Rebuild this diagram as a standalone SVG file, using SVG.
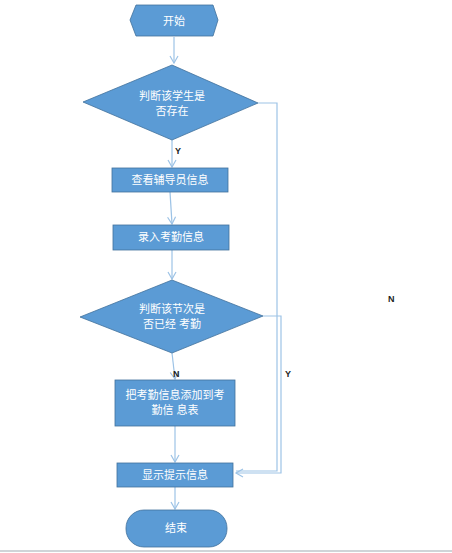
<svg xmlns="http://www.w3.org/2000/svg" width="452" height="553" viewBox="0 0 452 553">
<defs>
<style>
.shape{fill:#5b9bd5;stroke:#41719c;stroke-width:0.8}
.t{fill:#ffffff;font-family:"Liberation Sans","Noto Sans CJK SC",sans-serif;font-size:11px;text-anchor:middle}
.c{fill:none;stroke:#9dc3e6;stroke-width:1.2}
.lbl{font-family:"Liberation Sans",sans-serif;font-size:9px;font-weight:bold;fill:#222}
</style>
<marker id="ah" markerWidth="10" markerHeight="10" refX="8" refY="5" orient="auto" markerUnits="userSpaceOnUse">
<path d="M1,1 L8,5 L1,9" fill="none" stroke="#9dc3e6" stroke-width="1.2"/>
</marker>
</defs>
<rect width="452" height="553" fill="#ffffff"/>
<g id="connectors">
<path class="c" d="M174,37 V63" marker-end="url(#ah)"/>
<path class="c" d="M172,140 V167" marker-end="url(#ah)"/>
<path class="c" d="M170,192 L172,224" marker-end="url(#ah)"/>
<path class="c" d="M172,250 V279" marker-end="url(#ah)"/>
<path class="c" d="M172,353 L175,379" marker-end="url(#ah)"/>
<path class="c" d="M175,426 V462" marker-end="url(#ah)"/>
<path class="c" d="M175,487 V509" marker-end="url(#ah)"/>
<path class="c" d="M258,103 H277 V471 H236"/>
<path class="c" d="M263,316 H281 V473 H236" marker-end="url(#ah)"/>
<text class="lbl" x="175" y="154">Y</text>
<text class="lbl" x="173" y="377" font-size="8">N</text>
<text class="lbl" x="285" y="377" font-size="8" fill="#555">Y</text>
<text class="lbl" x="388" y="302">N</text>
</g>
<g id="start">
<polygon class="shape" points="130,20 136,5 213,5 218,20 213,36 136,36"/>
<text class="t" x="174" y="25">开始</text>
</g>
<g id="decision1">
<polygon class="shape" points="172,65 258,103 172,140 83,102"/>
<text class="t" x="172" y="100">判断该学生是</text>
<text class="t" x="172" y="115">否存在</text>
</g>
<g id="view">
<rect class="shape" x="112" y="168" width="116" height="24"/>
<text class="t" x="170" y="184">查看辅导员信息</text>
</g>
<g id="input">
<rect class="shape" x="113" y="225" width="116" height="25"/>
<text class="t" x="171" y="241">录入考勤信息</text>
</g>
<g id="decision2">
<polygon class="shape" points="172,280 263,316 172,353 80,317"/>
<text class="t" x="172" y="313">判断该节次是</text>
<text class="t" x="172" y="328">否已经 考勤</text>
</g>
<g id="add">
<rect class="shape" x="115" y="380" width="120" height="46"/>
<text class="t" x="175" y="399">把考勤信息添加到考</text>
<text class="t" x="175" y="414">勤信 息表</text>
</g>
<g id="show">
<rect class="shape" x="117" y="463" width="116" height="24"/>
<text class="t" x="175" y="479">显示提示信息</text>
</g>
<g id="end">
<rect class="shape" x="126" y="510" width="101" height="37" rx="18" ry="18"/>
<text class="t" x="176" y="532">结束</text>
</g>
<line x1="0" y1="551" x2="452" y2="551" stroke="#d0d4d8" stroke-width="2"/>
</svg>
